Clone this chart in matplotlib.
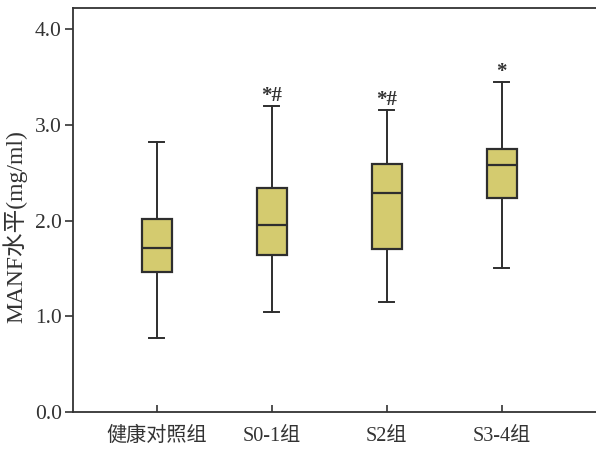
import numpy as np
import matplotlib
matplotlib.use("Agg")
import matplotlib.pyplot as plt

plt.rcParams['font.family'] = ['Liberation Serif', 'Noto Sans CJK SC']

groups = ['健康对照组', 'S0-1组', 'S2组', 'S3-4组']
whislo = [0.77, 1.04, 1.15, 1.50]
q1 = [1.46, 1.64, 1.70, 2.23]
med = [1.71, 1.95, 2.29, 2.58]
q3 = [2.02, 2.34, 2.59, 2.75]
whishi = [2.82, 3.20, 3.15, 3.45]
marks = ['', '*#', '*#', '*']

stats = []
for i in range(len(groups)):
    stats.append(dict(whislo=whislo[i], q1=q1[i], med=med[i], q3=q3[i],
                      whishi=whishi[i], fliers=[], label=groups[i]))

fig = plt.figure(figsize=(5.96, 4.5), dpi=100)
ax = fig.add_axes([0.1225, 0.0844, 0.8775, 0.898])

edge = '#2e2e2e'
ax.bxp(stats, positions=[1, 2, 3, 4], widths=0.26, patch_artist=True,
       showfliers=False,
       boxprops=dict(facecolor='#d4cb6f', edgecolor=edge, linewidth=1.6),
       medianprops=dict(color=edge, linewidth=1.6),
       whiskerprops=dict(color=edge, linewidth=1.4),
       capprops=dict(color=edge, linewidth=1.4),
       capwidths=0.13)

# significance marks above the upper whiskers
for i, m in enumerate(marks):
    if m:
        ax.annotate(m, (i + 1, whishi[i]), xytext=(0, 0), textcoords='offset points',
                    ha='center', va='bottom', fontsize=15, color='#333333',
                    fontweight='bold')

ax.set_xlim(0.272, 4.82)
ax.set_ylim(0, 4.22)
ax.set_yticks([0, 1, 2, 3, 4])
ax.set_yticklabels(['0.0', '1.0', '2.0', '3.0', '4.0'])
ax.set_xticks([1, 2, 3, 4])
ax.set_xticklabels(groups)
ax.tick_params(axis='y', direction='out', length=6, width=1.2, labelsize=15.5,
               colors='#333333', pad=2)
ax.tick_params(axis='x', direction='in', length=5, width=1.2, labelsize=14.5,
               colors='#333333', pad=11)
ax.set_ylabel('MANF水平(mg/ml)', fontsize=17, color='#333333')
ax.yaxis.set_label_coords(-0.087, 0.46)

ax.spines['right'].set_visible(False)
for s in ['left', 'top', 'bottom']:
    ax.spines[s].set_linewidth(1.3)
    ax.spines[s].set_color('#333333')

fig.savefig('out.png', dpi=100)
